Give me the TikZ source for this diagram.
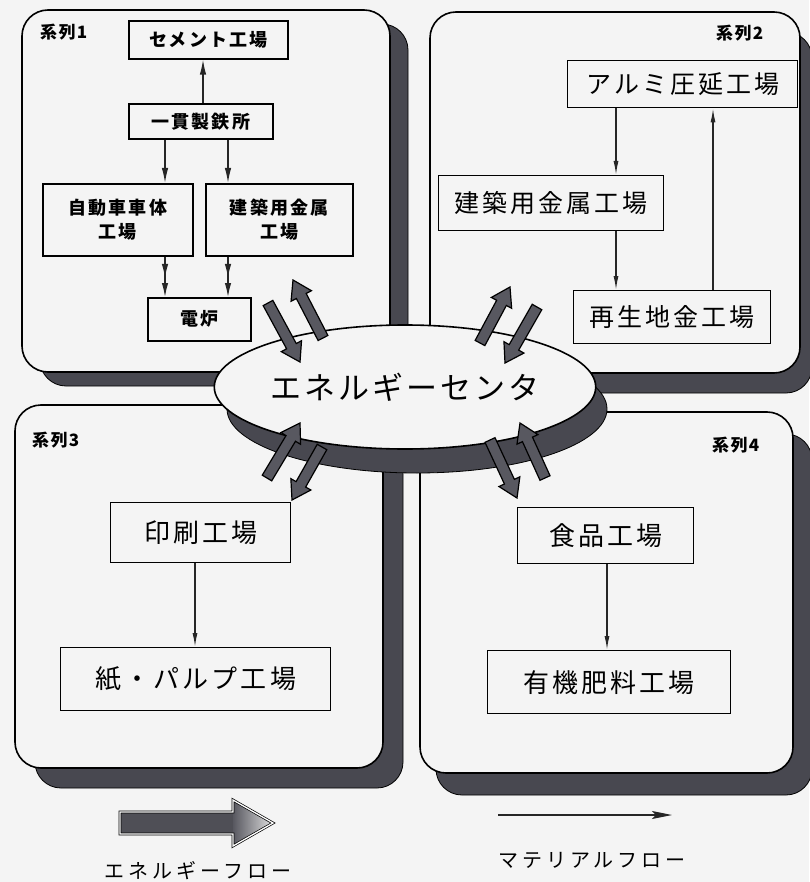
\documentclass[tikz,border=0pt]{standalone}
\usepackage{fontspec}
\setmainfont{Noto Sans CJK JP}
\newfontfamily\jpS{Noto Sans CJK JP}[LetterSpace=12]
\newfontfamily\jpM{Noto Sans CJK JP}[LetterSpace=12]
\newfontfamily\jpL{Noto Sans CJK JP}[LetterSpace=10]
\newfontfamily\jpG{Noto Sans CJK JP}[LetterSpace=20]
\newfontfamily\jpT{Noto Sans CJK JP}[LetterSpace=8]
\usetikzlibrary{calc,arrows.meta,shapes.geometric}

\definecolor{paper}{RGB}{244,244,244}
\definecolor{shade}{RGB}{72,72,80}
\definecolor{arrowc}{RGB}{88,88,96}

\tikzset{
 quad/.style={fill=paper, draw=black, line width=1.6pt, rounded corners=26pt},
 quadshadow/.style={fill=shade, draw=black, line width=0.8pt, rounded corners=26pt},
 smallbox/.style={draw=black, line width=1.6pt, fill=paper, inner sep=0pt, anchor=north west, align=center,
   font=\fontsize{18}{24}\selectfont\jpS\bfseries},
 bigbox/.style={draw=black, line width=1.4pt, fill=paper, inner sep=0pt, anchor=north west,
   font=\fontsize{25}{30}\selectfont\jpM},
 series/.style={anchor=west, inner sep=0pt, font=\fontsize{17}{20}\selectfont\jpT\bfseries},
 mat/.style={draw=black!85, line width=1.3pt},
 matA/.style={mat, -{Latex[length=14pt,width=5pt]}},
 matB/.style={mat, -{Latex[length=15pt,width=6.5pt]}},
 matC/.style={mat, -{Latex[length=14pt,width=6.5pt,sep=5pt]Latex[length=14pt,width=6.5pt]}},
 energy/.style={fill=arrowc, draw=black, line width=1.2pt, line join=miter},
 legendtext/.style={inner sep=0pt, font=\fontsize{20}{24}\selectfont\jpG},
}

\newcommand\fatarrow[2]{%
  \coordinate (fah) at ($(#2)!18pt!(#1)$);
  \path[energy] ($(#1)!5.5pt!90:(#2)$) -- ($(fah)!5.5pt!90:(#2)$) -- ($(fah)!11.5pt!90:(#2)$)
    -- (#2) -- ($(fah)!11.5pt!-90:(#2)$) -- ($(fah)!5.5pt!-90:(#2)$) -- ($(#1)!5.5pt!-90:(#2)$) -- cycle;
}

\begin{document}
\begin{tikzpicture}[x=1pt,y=-1pt]
\useasboundingbox (0,0) rectangle (809,882);
\fill[paper] (0,0) rectangle (809,882);

% shadows of the four series
\path[quadshadow] (40,24) rectangle (408,386);
\path[quadshadow] (440,32) rectangle (812,393);
\path[quadshadow] (35,425) rectangle (403,788);
\path[quadshadow] (436,434) rectangle (812,795);

% the four series
\path[quad] (22,10) rectangle (390,372);
\path[quad] (430,12) rectangle (800,373);
\path[quad] (15,405) rectangle (383,768);
\path[quad] (420,412) rectangle (793,773);

% energy centre
\filldraw[fill=shade, draw=black, line width=0.8pt] (417,409) ellipse [x radius=190, y radius=64];
\node[draw=black, ellipse, fill=paper, line width=1.6pt, minimum width=370pt, minimum height=124pt,
  inner sep=0pt, font=\fontsize{31}{34}\selectfont\jpL] (center) at (405,387) {エネルギーセンタ};

% energy arrows
\coordinate (e1a) at (268,303); \coordinate (e1b) at (300,362);
\coordinate (e2a) at (323,338); \coordinate (e2b) at (293,280);
\coordinate (e3a) at (480,343); \coordinate (e3b) at (510,287);
\coordinate (e4a) at (537,307); \coordinate (e4b) at (505,363);
\coordinate (e5a) at (267,478); \coordinate (e5b) at (300,423);
\coordinate (e6a) at (322,447); \coordinate (e6b) at (292,500);
\coordinate (e7a) at (545,478); \coordinate (e7b) at (520,423);
\coordinate (e8a) at (490,440); \coordinate (e8b) at (517,498);
\fatarrow{e1a}{e1b}
\fatarrow{e2a}{e2b}
\fatarrow{e3a}{e3b}
\fatarrow{e4a}{e4b}
\fatarrow{e5a}{e5b}
\fatarrow{e6a}{e6b}
\fatarrow{e7a}{e7b}
\fatarrow{e8a}{e8b}

% series labels
\node[series] (s1) at (40,32) {系列1};
\node[series] (s2) at (716,33) {系列2};
\node[series] (s3) at (32,440) {系列3};
\node[series] (s4) at (712,445) {系列4};

% series 1
\node[smallbox, minimum width=159pt, minimum height=38pt] (cement) at (128,20) {セメント工場};
\node[smallbox, minimum width=144pt, minimum height=35pt] (seitetsu) at (128,103) {一貫製鉄所};
\node[smallbox, minimum width=150pt, minimum height=72pt] (jidosha) at (42,183) {自動車車体\\工場};
\node[smallbox, minimum width=147pt, minimum height=72pt] (kenchikuA) at (205,183) {建築用金属\\工場};
\node[smallbox, minimum width=103pt, minimum height=43pt] (denro) at (147,297) {電炉};

\coordinate (x203) at (203,0);
\coordinate (x165) at (165,0);
\coordinate (x228) at (228,0);
\draw[matB] (seitetsu.north -| x203) -- (cement.south -| x203);
\draw[matB] (seitetsu.south -| x165) -- (jidosha.north -| x165);
\draw[matB] (seitetsu.south -| x228) -- (kenchikuA.north -| x228);
\draw[matC] (jidosha.south -| x165) -- (denro.north -| x165);
\draw[matC] (kenchikuA.south -| x228) -- (denro.north -| x228);

% series 2
\node[bigbox, minimum width=230pt, minimum height=47pt] (alumi) at (567,60) {アルミ圧延工場};
\node[bigbox, minimum width=225pt, minimum height=55pt] (kenchikuB) at (438,175) {建築用金属工場};
\node[bigbox, minimum width=197pt, minimum height=53pt] (saisei) at (573,290) {再生地金工場};
\coordinate (x616) at (616,0);
\coordinate (x713) at (713,0);
\draw[matA] (alumi.south -| x616) -- (kenchikuB.north -| x616);
\draw[matA] (kenchikuB.south -| x616) -- (saisei.north -| x616);
\draw[matA] (saisei.north -| x713) -- (alumi.south -| x713);

% series 3
\node[bigbox, minimum width=180pt, minimum height=60pt, font=\fontsize{26}{30}\selectfont\jpM] (insatsu) at (110,502) {印刷工場};
\node[bigbox, minimum width=270pt, minimum height=63pt, font=\fontsize{26}{30}\selectfont\jpM] (kami) at (60,647) {紙・パルプ工場};
\coordinate (x195) at (195,0);
\draw[matA] (insatsu.south -| x195) -- (kami.north -| x195);

% series 4
\node[bigbox, minimum width=176pt, minimum height=56pt, font=\fontsize{26}{30}\selectfont\jpM] (shokuhin) at (517,507) {食品工場};
\node[bigbox, minimum width=243pt, minimum height=63pt, font=\fontsize{26}{30}\selectfont\jpM] (yuki) at (487,650) {有機肥料工場};
\coordinate (x607) at (607,0);
\draw[matA] (shokuhin.south -| x607) -- (yuki.north -| x607);

% legend: energy flow
\fill[arrowc!90!black] (120,812) -- (233,812) -- (233,800) -- (273,823) -- (233,846) -- (233,834) -- (120,834) -- cycle;
\shade[left color=arrowc, right color=gray!25] (233,800) -- (273,823) -- (233,846) -- cycle;
\draw[black, line width=0.7pt, double=white, double distance=1.3pt, line join=miter]
  (120,812) -- (233,812) -- (233,800) -- (273,823) -- (233,846) -- (233,834) -- (120,834) -- cycle;
\node[legendtext] (eflow) at (198,871) {エネルギーフロー};

% legend: material flow
\coordinate (m1) at (498,815);
\coordinate (m2) at (672,815);
\draw[mat, -{Stealth[length=20pt,width=8pt,inset=4pt]}] (m1) -- (m2);
\node[legendtext] (mflow) at (592,860) {マテリアルフロー};
\end{tikzpicture}
\end{document}
